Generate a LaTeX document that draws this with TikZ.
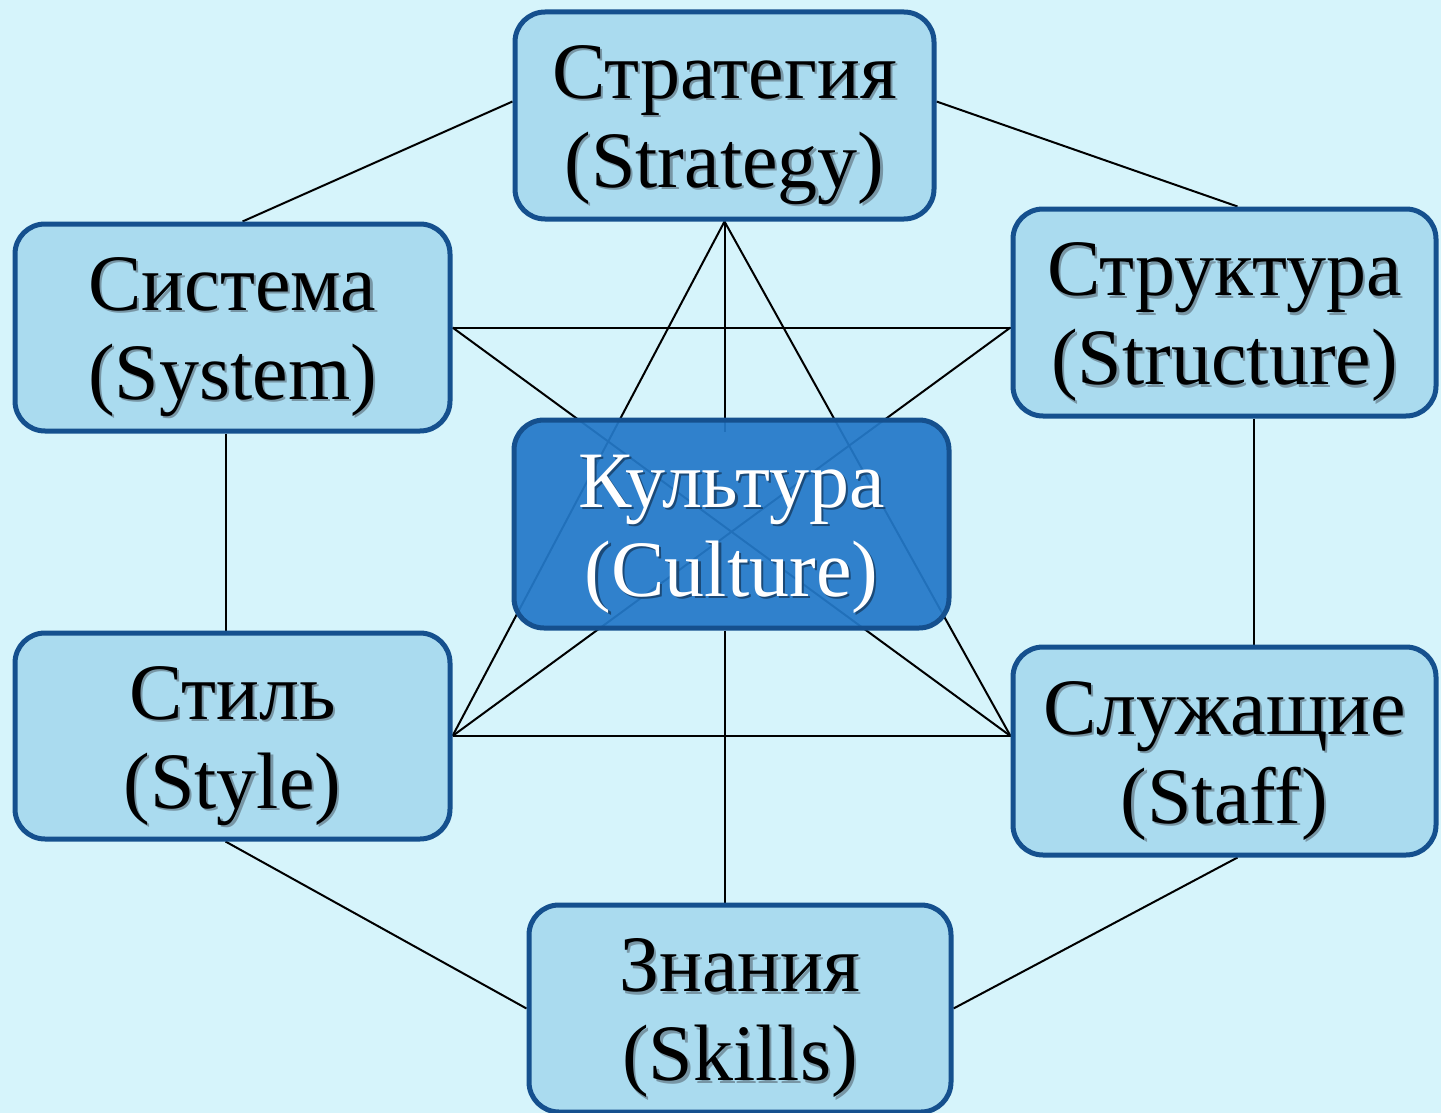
\documentclass[tikz,border=0pt]{standalone}
\usepackage{fontspec}
\usetikzlibrary{backgrounds}
\newfontfamily\bxfont{Liberation Serif}
\definecolor{bgc}{HTML}{D6F4FB}
\definecolor{boxc}{HTML}{AADBEF}
\definecolor{bordc}{HTML}{15508E}
\definecolor{cultc}{HTML}{2479C9}
\definecolor{shdc}{HTML}{7896A5}
\definecolor{shdw}{HTML}{1B4A78}
\newcommand\shtxt[2]{\leavevmode\rlap{\kern1.1pt\raisebox{-1.1pt}{\textcolor{#1}{#2}}}#2}
\newcommand\toplift{\rule{0pt}{37.5pt}}
\begin{document}
\begin{tikzpicture}[x=0.5pt,y=-0.5pt,
  box/.style={draw=bordc, line width=2.5pt, fill=boxc, rounded corners=15pt,
    align=center, inner sep=0pt, text=black,
    font=\bxfont\fontsize{40pt}{44.5pt}\selectfont},
  cbox/.style={box, fill=cultc, fill opacity=0.93, draw opacity=1, text opacity=1, text=white},
  link/.style={draw=black, line width=1pt}]
\useasboundingbox (0,0) rectangle (1441,1113);

\node[box, minimum width=209.5pt, minimum height=103.5pt] (strat) at (724.5,115.5)
  {\toplift\shtxt{shdc}{Стратегия}\\\shtxt{shdc}{(Strategy)}};
\node[box, minimum width=217.5pt, minimum height=103.5pt] (sys) at (232.5,327.5)
  {\toplift\shtxt{shdc}{Система}\\\shtxt{shdc}{(System)}};
\node[box, minimum width=211.5pt, minimum height=103.5pt] (struc) at (1224.5,312.5)
  {\toplift\shtxt{shdc}{Структура}\\\shtxt{shdc}{(Structure)}};
\node[cbox, minimum width=217.5pt, minimum height=104pt] (cult) at (731.5,524)
  {\toplift\shtxt{shdw}{Культура}\\\shtxt{shdw}{(Culture)}};
\node[box, minimum width=217.5pt, minimum height=103pt] (style) at (232.5,736)
  {\toplift\shtxt{shdc}{Стиль}\\\shtxt{shdc}{(Style)}};
\node[box, minimum width=211.5pt, minimum height=104pt] (staff) at (1224.5,751)
  {\toplift\shtxt{shdc}{Служащие}\\\shtxt{shdc}{(Staff)}};
\node[box, minimum width=211pt, minimum height=103.5pt] (skills) at (740,1008.5)
  {\toplift\shtxt{shdc}{Знания}\\\shtxt{shdc}{(Skills)}};

\path (cult.north -| strat.south) coordinate (ctop);
\path (cult.south -| strat.south) coordinate (cbot);
\path (skills.north -| strat.south) coordinate (stop);
\path (struc.west |- sys.east) coordinate (strl);
\path (staff.west |- style.east) coordinate (stfl);

\begin{pgfonlayer}{background}
\fill[bgc] (0,0) rectangle (1441,1113);
\draw[link] ([yshift=7pt]strat.west) -- ([xshift=5pt]sys.north);
\draw[link] ([yshift=7pt]strat.east) -- ([xshift=6.5pt]struc.north);
\draw[link] (strat.south) -- ([yshift=-7pt]ctop);
\draw[link] (strat.south) -- (style.east);
\draw[link] (strat.south) -- (stfl);
\draw[link] (sys.east) -- (strl);
\draw[link] (sys.east) -- (stfl);
\draw[link] (strl) -- (style.east);
\draw[link] (style.east) -- (stfl);
\draw[link] ([xshift=-3.5pt]sys.south) -- ([xshift=-3.5pt]style.north);
\draw[link] ([xshift=14.5pt]struc.south) -- ([xshift=14.5pt]staff.north);
\draw[link] ([xshift=-3.5pt]style.south) -- (skills.west);
\draw[link] ([xshift=6.5pt]staff.south) -- (skills.east);
\draw[link] (cbot) -- (stop);
\end{pgfonlayer}
\end{tikzpicture}
\end{document}
